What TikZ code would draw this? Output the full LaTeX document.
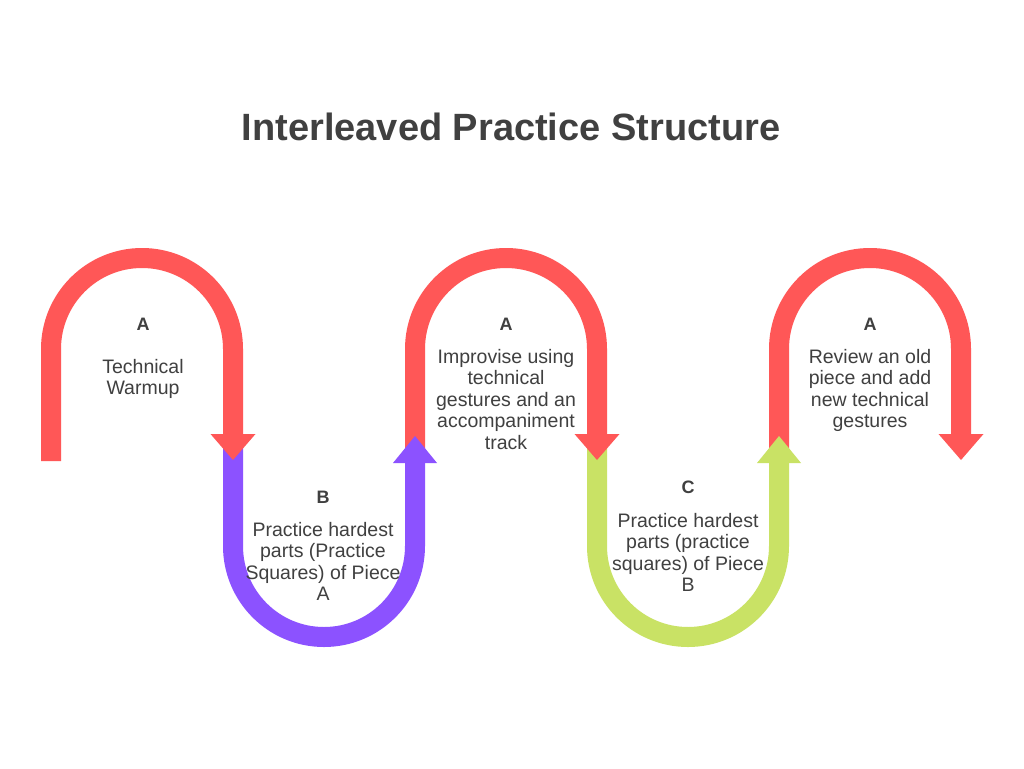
\documentclass[tikz,border=0pt]{standalone}
\usepackage{fontspec}
\setmainfont{Liberation Sans}
\definecolor{cred}{HTML}{FF5757}
\definecolor{cpurple}{HTML}{8C52FF}
\definecolor{cgreen}{HTML}{C9E265}
\definecolor{ctext}{HTML}{404040}
\begin{document}
\begin{tikzpicture}[x=1pt,y=1pt,
  band/.style={line width=20pt,line cap=butt,line join=round},
  headfill/.style={draw=none},
  lbl/.style={anchor=base,inner sep=0pt,text=ctext,font=\fontsize{18}{21.5}\selectfont\bfseries},
  body/.style={anchor=base,inner sep=0pt,text=ctext,font=\fontsize{19.5}{21.5}\selectfont},
  ttl/.style={anchor=base,inner sep=0pt,text=ctext,font=\fontsize{38}{44}\selectfont\bfseries}]
\fill[white] (0,0) rectangle (1024,-768);
\useasboundingbox (0,0) rectangle (1024,-768);
\newcommand{\ctab}[1]{\begin{tabular}[t]{@{}c@{}}#1\end{tabular}}
% lower U bands
\draw[band,cpurple] (233,-440) -- (233,-546) arc[start angle=180,end angle=360,radius=91] -- (415,-463);
\draw[band,cgreen] (597,-440) -- (597,-546) arc[start angle=180,end angle=360,radius=91] -- (779,-463);
% upper red arcs
\draw[band,cred] (51,-461) -- (51,-349) arc[start angle=180,end angle=0,radius=91] -- (233,-434);
\fill[cred] (210.5,-434) -- (255.5,-434) -- (233,-460) -- cycle;
\draw[band,cred] (415,-455) -- (415,-349) arc[start angle=180,end angle=0,radius=91] -- (597,-434);
\fill[cred] (574.5,-434) -- (619.5,-434) -- (597,-460) -- cycle;
\draw[band,cred] (779,-455) -- (779,-349) arc[start angle=180,end angle=0,radius=91] -- (961,-434);
\fill[cred] (938.5,-434) -- (983.5,-434) -- (961,-460) -- cycle;
% up arrowheads
\fill[cpurple] (393,-463) -- (437,-463) -- (415,-436) -- cycle;
\fill[cgreen] (757,-463) -- (801,-463) -- (779,-436) -- cycle;
% title
\node[ttl] (title) at (511,-140) {Interleaved Practice Structure};
% labels
\node[lbl] (l1) at (143,-330) {A};
\node[body] (t1) at (143,-373) {\ctab{Technical\\Warmup}};
\node[lbl] (l2) at (323,-503) {B};
\node[body] (t2) at (323,-536) {\ctab{Practice hardest\\parts (Practice\\Squares) of Piece\\A}};
\node[lbl] (l3) at (506,-330) {A};
\node[body] (t3) at (506,-363) {\ctab{Improvise using\\technical\\gestures and an\\accompaniment\\track}};
\node[lbl] (l4) at (688,-493) {C};
\node[body] (t4) at (688,-527) {\ctab{Practice hardest\\parts (practice\\squares) of Piece\\B}};
\node[lbl] (l5) at (870,-330) {A};
\node[body] (t5) at (870,-363) {\ctab{Review an old\\piece and add\\new technical\\gestures}};
\end{tikzpicture}
\end{document}
